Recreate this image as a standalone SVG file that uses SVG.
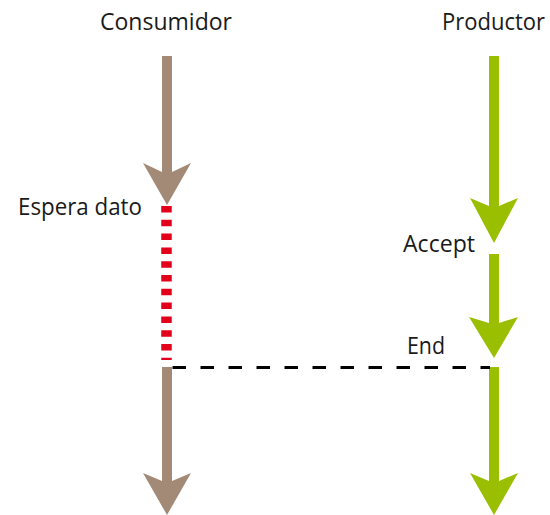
<svg xmlns="http://www.w3.org/2000/svg" width="550" height="515" viewBox="0 0 550 515">
<style>
.lbl{font-family:"Open Sans","Liberation Sans",sans-serif;font-size:23px;fill:#1a1a1a}
.brown{fill:#a38a76}
.green{fill:#99bf00}
</style>
<rect width="550" height="515" fill="#ffffff"/>
<g id="consumidor">
<text class="lbl" x="100" y="30" textLength="132" lengthAdjust="spacingAndGlyphs">Consumidor</text>
<path class="brown" d="M162,56 H172 V172 L191,163 L167,205 L143,163 L162,172 Z"/>
</g>
<g id="productor">
<text class="lbl" x="442" y="30" textLength="103" lengthAdjust="spacingAndGlyphs">Productor</text>
<path class="green" d="M489,56 H499 V206 L518,198 L494,243 L470,198 L489,206 Z"/>
</g>
<g id="espera">
<text class="lbl" x="18" y="215" textLength="124" lengthAdjust="spacingAndGlyphs">Espera dato</text>
<line x1="166.5" y1="206" x2="166.5" y2="360" stroke="#e2001a" stroke-width="10.5" stroke-dasharray="6.5 7.3"/>
</g>
<g id="accept">
<text class="lbl" x="403" y="252" textLength="72" lengthAdjust="spacingAndGlyphs">Accept</text>
<path class="green" d="M489,254 H499 V323 L518,317 L494,358 L469,317 L489,323 Z"/>
</g>
<g id="end">
<text class="lbl" x="407" y="354" textLength="38" lengthAdjust="spacingAndGlyphs">End</text>
</g>
<g id="consumidor-after">
<path class="brown" d="M162,367 H172 V481 L191,473 L167,515 L143,473 L162,481 Z"/>
</g>
<g id="productor-after">
<path class="green" d="M489,367 H499 V481 L518,473 L494,515 L470,473 L489,481 Z"/>
</g>
<g id="connectors">
<line x1="172.5" y1="367.5" x2="490" y2="367.5" stroke="#000" stroke-width="3" stroke-dasharray="13.5 14.5"/>
</g>
</svg>
